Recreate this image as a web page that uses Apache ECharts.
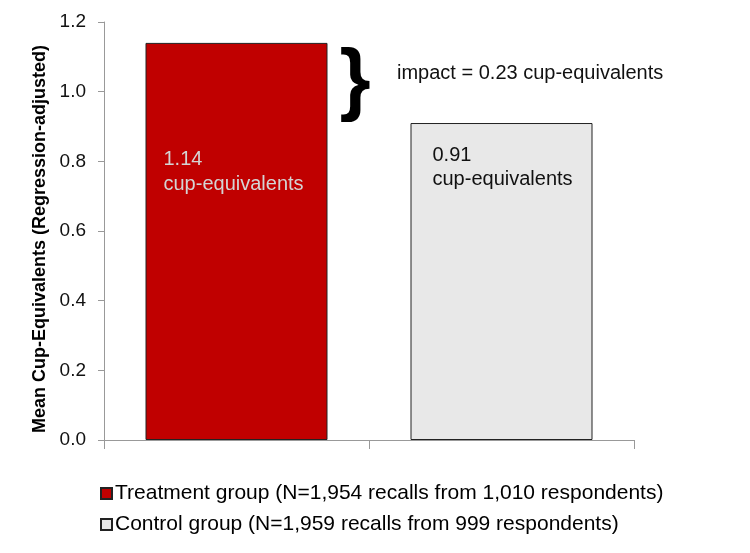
<!DOCTYPE html>
<html>
<head>
<meta charset="UTF-8">
<title>Mean Cup-Equivalents</title>
<script src="https://cdn.jsdelivr.net/npm/echarts@6/dist/echarts.min.js"></script>
<style>
  html, body { margin: 0; padding: 0; background: #fff; }
  #main { width: 750px; height: 553px; }
</style>
</head>
<body>
<div id="main"></div>
<script>
// data
var categories = ['Treatment', 'Control'];
var seriesNames = [
  'Treatment group (N=1,954 recalls from 1,010 respondents)',
  'Control group (N=1,959 recalls from 999 respondents)'
];
var treatmentValues = [1.14, '-'];
var controlValues = ['-', 0.91];
var impactText = 'impact = 0.23 cup-equivalents';

var font = 'Liberation Sans, Arial, sans-serif';
var chart = echarts.init(document.getElementById('main'));

var option = {
  animation: false,
  textStyle: { fontFamily: font },
  grid: { left: 104, right: 116, top: 22, bottom: 113 },
  legend: {
    orient: 'vertical',
    left: 100,
    top: 483,
    padding: 0,
    icon: 'rect',
    itemWidth: 11,
    itemHeight: 11,
    itemGap: 10,
    textStyle: { fontSize: 21, color: '#000', fontFamily: font, padding: [0, 0, 0, -2] },
    data: seriesNames
  },
  xAxis: {
    type: 'category',
    data: categories,
    axisLine: { lineStyle: { color: '#999' } },
    axisTick: { show: true, length: 9, lineStyle: { color: '#999' } },
    axisLabel: { show: false }
  },
  yAxis: {
    type: 'value',
    min: 0,
    max: 1.2,
    interval: 0.2,
    name: 'Mean Cup-Equivalents (Regression-adjusted)',
    nameLocation: 'middle',
    nameGap: 52,
    nameTextStyle: {
      fontSize: 18, fontWeight: 'bold', color: '#000', fontFamily: font,
      padding: [0, 16, 0, 0]
    },
    axisLine: { show: true, lineStyle: { color: '#999' } },
    axisTick: { show: true, length: 6, lineStyle: { color: '#999' } },
    splitLine: { show: false },
    axisLabel: {
      fontSize: 19,
      color: '#111',
      margin: 18,
      formatter: function (v) { return v.toFixed(1); }
    }
  },
  series: [
    {
      name: seriesNames[0],
      type: 'bar',
      data: treatmentValues,
      barWidth: 182,
      barGap: '-100%',
      itemStyle: { color: '#C00000', borderColor: '#222', borderWidth: 1 },
      label: {
        show: true,
        position: [18, 104],
        align: 'left',
        verticalAlign: 'top',
        fontSize: 20,
        lineHeight: 25,
        color: '#D4D4D4',
        formatter: function (p) { return p.value.toFixed(2) + '\ncup-equivalents'; }
      }
    },
    {
      name: seriesNames[1],
      type: 'bar',
      data: controlValues,
      barWidth: 182,
      barGap: '-100%',
      itemStyle: { color: '#E8E8E8', borderColor: '#222', borderWidth: 1 },
      label: {
        show: true,
        position: [22, 20],
        align: 'left',
        verticalAlign: 'top',
        fontSize: 20,
        lineHeight: 24,
        color: '#111',
        formatter: function (p) { return p.value.toFixed(2) + '\ncup-equivalents'; }
      }
    }
  ]
};
chart.setOption(option);

// brace and impact note, placed from the axis scale
var topY = chart.convertToPixel({ yAxisIndex: 0 }, treatmentValues[0]);
var lowY = chart.convertToPixel({ yAxisIndex: 0 }, controlValues[1]);
var midY = (topY + lowY) / 2;
var braceSize = (lowY - topY) * 1.0;
chart.setOption({
  graphic: [
    {
      type: 'text',
      x: 355,
      y: midY,
      style: {
        text: '}',
        fontSize: braceSize,
        fontWeight: 'bold',
        fontFamily: font,
        fill: '#000',
        align: 'center',
        verticalAlign: 'middle'
      }
    },
    {
      type: 'text',
      x: 397,
      y: topY + 31,
      style: {
        text: impactText,
        fontSize: 20,
        fontFamily: font,
        fill: '#111',
        verticalAlign: 'middle'
      }
    }
  ]
});
</script>
</body>
</html>
